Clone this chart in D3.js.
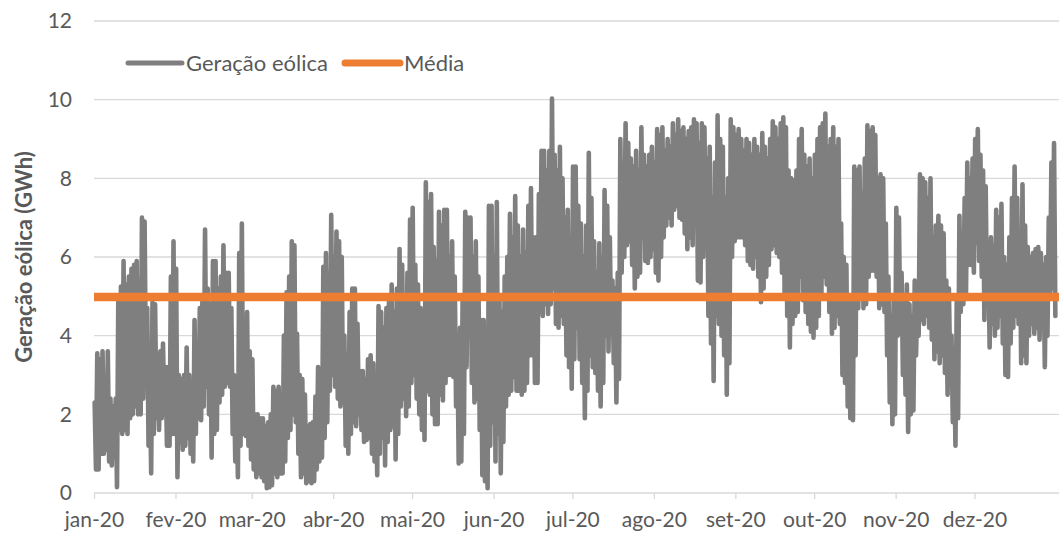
<!DOCTYPE html>
<html>
<head>
<meta charset="utf-8">
<script src="https://cdn.jsdelivr.net/npm/d3@7"></script>
<style>
  html, body { margin: 0; padding: 0; background: #ffffff; }
  svg { display: block; }
  text { font-family: Lato, "Open Sans", sans-serif; }
</style>
</head>
<body>
<svg id="chart" width="1059" height="535"></svg>
<script>
// ---- data ----
const monthLabels = ["jan-20","fev-20","mar-20","abr-20","mai-20","jun-20","jul-20","ago-20","set-20","out-20","nov-20","dez-20"];
const monthStartDay = [0,31,60,91,121,152,182,213,244,274,305,335];
const yTicks = [0,2,4,6,8,10,12];
const seriesNames = ["Geração eólica","Média"];
const mediaValue = 4.98;

// daily maximum of hourly wind generation (GWh), day 0 = 1 Jan 2020
const dailyMax = [
  2.3,3.55,3.4,3.6,2.5,3.6,2.4,2.2,2.4,5.0,
  5.25,5.9,5.3,5.5,5.7,5.8,5.9,5.4,7.0,6.9,
  4.7,3.0,4.85,4.8,3.4,3.6,3.8,3.2,3.2,5.5,
  6.4,5.7,3.0,2.9,3.0,3.7,3.0,2.6,4.4,3.8,
  4.7,5.0,6.7,5.2,4.8,5.9,5.9,5.2,5.5,6.3,
  5.6,5.6,4.7,3.0,2.2,6.1,6.85,4.0,4.6,3.6,
  3.4,2.0,2.0,1.9,1.9,1.7,1.8,2.0,2.7,2.6,
  2.7,2.2,4.0,5.1,
  5.5,6.4,6.3,4.05,3.0,2.9,2.5,1.7,1.75,1.8,
  2.45,3.2,3.0,5.75,6.1,5.6,7.07,6.0,6.65,6.4,
  6.0,4.0,3.5,4.6,5.2,5.2,4.3,3.1,3.1,2.9,
  3.4,3.5,3.3,2.7,4.75,4.6,4.2,4.7,5.0,5.3,
  4.6,5.2,6.2,5.8,5.0,5.6,6.95,7.25,5.8,5.3,
  4.7,4.6,7.9,7.4,7.6,6.25,5.9,7.15,6.8,7.2,
  7.2,6.0,6.4,5.5,4.0,4.2,5.0,7.15,7.0,7.0,
  6.0,6.4,5.5,4.4,
  4.4,2.5,7.3,7.3,6.0,7.4,5.0,4.6,5.5,6.0,
  7.1,6.5,7.55,6.8,6.0,6.7,6.1,7.3,7.75,6.5,
  6.5,7.6,8.7,8.7,8.2,8.7,10.03,8.6,8.2,8.8,
  8.0,7.0,7.2,6.5,8.3,8.3,7.3,6.85,6.0,6.8,
  8.65,7.5,6.4,5.6,6.35,6.0,7.7,7.3,6.5,5.4,
  5.2,5.6,9.0,8.4,9.4,8.9,8.5,8.3,8.7,8.2,
  9.3,8.6,8.3,8.6,8.8,8.4,9.25,9.1,9.3,8.7,
  9.0,8.8,9.4,9.1,
  9.5,9.2,9.3,9.0,9.2,9.3,9.5,9.4,8.9,9.4,
  9.3,8.5,8.8,7.5,8.4,9.6,9.0,8.8,7.5,8.0,
  9.5,9.3,9.1,9.25,9.0,8.7,9.0,8.9,8.6,9.0,
  8.8,8.6,9.15,8.8,8.5,9.0,9.45,9.3,9.0,9.4,
  9.55,9.3,8.2,8.0,7.95,8.2,9.0,9.25,8.6,8.3,
  8.5,8.0,8.6,9.0,9.3,9.4,9.65,8.8,9.0,9.3,
  8.8,9.0,6.85,6.0,5.8,5.0,4.8,8.3,8.2,8.3,
  7.6,8.5,9.35,9.2,
  9.3,9.1,8.0,8.1,8.0,6.85,5.5,4.5,5.0,7.25,
  7.0,5.6,5.0,5.3,4.8,4.5,5.4,5.0,8.1,8.0,
  7.9,7.5,8.0,6.5,6.8,7.05,6.8,6.6,5.4,5.2,
  4.0,3.5,5.0,7.05,6.5,7.5,8.4,8.0,8.5,9.0,
  9.25,8.6,8.2,7.8,6.2,6.5,6.3,7.2,7.0,7.35,
  6.0,5.8,6.5,7.5,8.3,7.5,6.5,7.85,6.8,6.25,
  6.0,6.1,6.2,6.25,6.1,5.8,6.0,7.0,8.4,8.9
];

// daily minimum of hourly wind generation (GWh)
const dailyMin = [
  0.6,0.6,1.0,1.0,1.1,0.8,0.7,0.9,0.15,1.6,
  1.5,1.6,1.5,1.9,2.0,2.2,2.0,2.0,2.4,3.0,
  1.2,0.5,1.5,1.9,1.6,1.9,2.0,1.2,1.2,1.5,
  1.5,0.4,1.3,1.1,1.2,1.4,1.0,0.8,1.5,1.9,
  1.85,2.2,2.7,2.0,0.9,1.5,1.6,2.3,2.5,2.7,
  2.8,2.7,1.5,0.8,0.4,1.2,1.5,1.45,1.2,0.85,
  0.6,0.4,0.5,0.4,0.3,0.12,0.15,0.2,0.5,0.4,
  0.5,0.5,0.8,1.4,
  1.6,2.0,1.8,1.0,0.4,0.5,0.25,0.3,0.25,0.3,
  0.6,0.8,0.9,1.4,1.8,2.6,3.0,2.7,2.4,2.2,
  2.3,1.2,1.0,1.5,1.8,1.7,2.0,1.6,1.3,1.35,
  1.4,1.0,0.8,0.45,1.0,1.4,0.7,1.3,1.6,1.7,
  0.85,1.5,2.2,2.4,1.95,2.2,2.8,3.0,2.4,2.0,
  1.6,1.35,2.6,2.5,2.0,1.75,1.75,2.5,2.35,2.8,
  3.0,3.0,2.95,2.2,0.75,0.8,1.5,3.2,4.0,2.8,
  2.3,2.4,1.6,0.45,
  0.3,0.12,1.2,1.8,0.8,1.5,0.5,1.3,2.2,2.5,
  2.6,2.95,2.6,2.6,2.5,2.6,2.8,3.5,3.5,2.8,
  2.8,4.6,4.5,4.8,4.55,4.8,5.2,4.3,4.2,4.5,
  4.3,3.5,3.2,2.65,3.4,4.2,3.4,2.8,1.9,2.6,
  3.5,3.2,3.05,2.6,2.2,2.8,4.0,3.6,4.1,3.3,
  2.3,2.9,5.6,6.0,6.3,6.4,5.8,5.2,5.5,5.6,
  6.5,5.9,5.85,6.0,6.2,5.6,5.4,6.0,6.5,6.8,
  7.0,6.8,7.2,7.3,
  7.0,6.95,6.6,6.2,6.5,6.3,6.8,5.4,5.35,6.0,
  6.3,4.5,3.8,2.85,4.5,4.3,4.0,3.5,2.5,3.3,
  6.0,6.4,6.5,6.5,6.5,6.3,5.9,5.8,5.7,6.0,
  5.5,4.85,5.2,5.5,5.8,6.2,6.3,6.1,6.0,5.6,
  5.0,4.5,3.7,4.3,4.5,4.6,5.5,4.9,4.6,4.3,
  4.1,3.95,4.2,4.5,5.0,5.5,5.3,4.6,4.05,4.2,
  4.5,4.3,3.0,2.8,2.2,1.9,1.85,3.5,4.7,5.0,
  4.7,4.8,5.5,5.65,
  5.65,5.5,4.7,4.8,4.6,3.5,2.3,1.75,2.0,4.0,
  4.05,3.0,2.5,1.55,2.0,2.1,3.5,4.0,4.4,4.3,
  4.5,4.2,3.9,3.4,3.6,3.3,3.5,3.05,2.5,3.0,
  1.8,1.2,1.9,4.6,4.8,5.0,5.8,5.8,5.6,6.35,
  5.9,5.5,4.4,4.8,3.7,4.3,4.0,4.2,4.5,3.8,
  3.0,2.95,3.8,4.2,4.5,4.3,3.3,3.5,3.3,4.0,
  4.3,4.05,4.2,3.9,4.4,3.2,4.0,5.0,5.2,4.5
];

// ---- layout ----
const svg = d3.select("#chart");
const plotLeft = 94, plotRight = 1056, plotTop = 21, plotBottom = 493;
const tickColor = "#595959", gridColor = "#d9d9d9";
const grayColor = "#7f7f7f", orangeColor = "#ed7d31";
const tickFont = "21px", legendFont = "22px", titleFont = "22px";

const x = d3.scaleLinear().domain([0, dailyMax.length]).range([plotLeft, plotRight]);
const y = d3.scaleLinear().domain([0, 12]).range([plotBottom, plotTop]);

// gridlines
svg.append("g")
  .selectAll("line")
  .data(yTicks.filter(d => d > 0))
  .join("line")
  .attr("x1", plotLeft).attr("x2", 1059)
  .attr("y1", d => y(d)).attr("y2", d => y(d))
  .attr("stroke", gridColor).attr("stroke-width", 1.3);

// y axis labels
const yAxis = svg.append("g")
  .attr("transform", `translate(${plotLeft},0)`)
  .call(d3.axisLeft(y).tickValues(yTicks).tickSize(0).tickPadding(22).tickFormat(d3.format("d")));
yAxis.select(".domain").remove();
yAxis.selectAll("text").attr("fill", tickColor).style("font-size", tickFont);

// x axis
const xAxis = svg.append("g")
  .attr("transform", `translate(0,${plotBottom})`)
  .call(d3.axisBottom(x).tickValues(monthStartDay).tickSize(6).tickPadding(13)
        .tickFormat((d, i) => monthLabels[i]));
xAxis.select(".domain").attr("d", `M${plotLeft},0H1059`).attr("stroke", gridColor).attr("stroke-width", 1.3);
xAxis.selectAll(".tick line").attr("stroke", gridColor).attr("stroke-width", 1.3);
xAxis.selectAll("text").attr("fill", tickColor).style("font-size", tickFont);

// wind series: daily max then min, drawn as a continuous line
const points = [];
dailyMax.forEach((mx, i) => {
  points.push([i + 0.25, mx]);
  points.push([i + 0.75, dailyMin[i]]);
});
const line = d3.line().x(d => x(d[0])).y(d => y(d[1]));
svg.append("path")
  .datum(points)
  .attr("d", line)
  .attr("fill", "none")
  .attr("stroke", grayColor)
  .attr("stroke-width", 4.6)
  .attr("stroke-linejoin", "round")
  .attr("stroke-linecap", "round");

// mean line
svg.append("path")
  .datum([[0, mediaValue], [dailyMax.length + 1.2, mediaValue]])
  .attr("d", line)
  .attr("fill", "none")
  .attr("stroke", orangeColor)
  .attr("stroke-width", 8.5);

// y title
svg.append("text")
  .attr("transform", "translate(32,257) rotate(-90)")
  .attr("text-anchor", "middle")
  .attr("fill", tickColor)
  .style("font-size", titleFont)
  .style("font-weight", "bold")
  .text("Geração eólica (GWh)");

// legend
const legend = svg.append("g");
const legendItems = [
  { name: seriesNames[0], color: grayColor, x0: 128, x1: 182, w: 5 },
  { name: seriesNames[1], color: orangeColor, x0: 345, x1: 400, w: 7 }
];
legendItems.forEach(it => {
  legend.append("line")
    .attr("x1", it.x0).attr("x2", it.x1).attr("y1", 63).attr("y2", 63)
    .attr("stroke", it.color).attr("stroke-width", it.w).attr("stroke-linecap", "round");
  legend.append("text")
    .attr("x", it.x1 + 4).attr("y", 63).attr("dy", "0.35em")
    .attr("fill", tickColor).style("font-size", legendFont)
    .text(it.name);
});
</script>
</body>
</html>
